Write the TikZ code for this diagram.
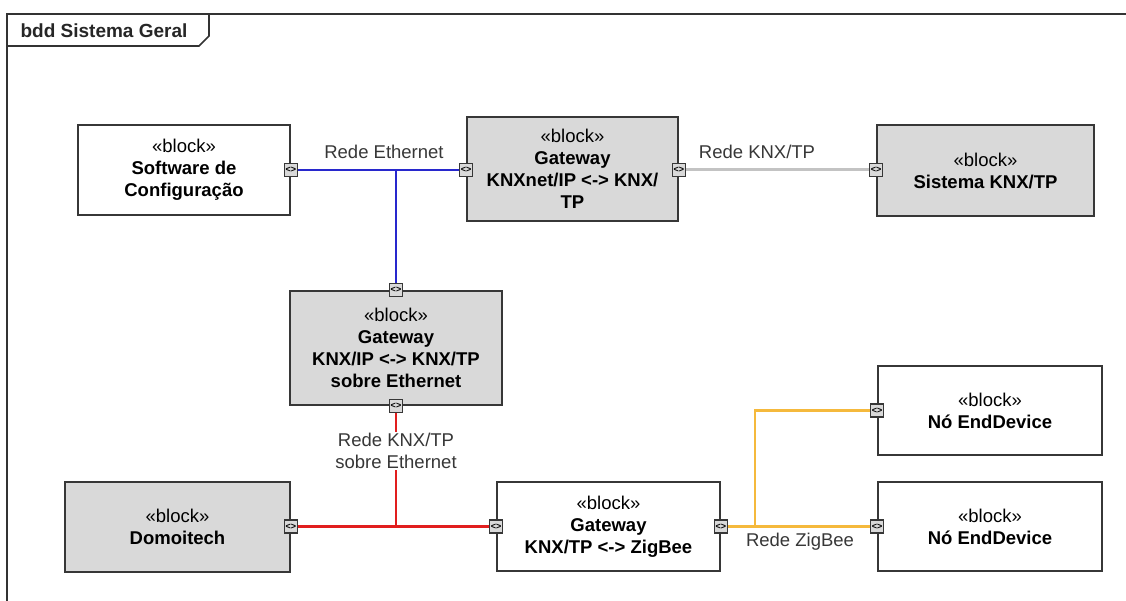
\documentclass[tikz,border=0pt]{standalone}
\usepackage{fontspec}
\setmainfont{Liberation Sans}
\usetikzlibrary{positioning}

\definecolor{ethblue}{RGB}{40,40,205}
\definecolor{knxgray}{RGB}{195,195,195}
\definecolor{knxred}{RGB}{225,30,30}
\definecolor{zigorange}{RGB}{245,185,60}
\definecolor{blockgray}{RGB}{217,217,217}
\definecolor{edgegray}{RGB}{55,55,55}

\begin{document}
\begin{tikzpicture}[x=1pt,y=-1pt,
  block/.style={draw=edgegray,line width=1.6pt,align=center,inner sep=0pt,
    font=\fontsize{18.5}{22}\selectfont,minimum height=90pt},
  port/.style={draw=edgegray,fill=blockgray,line width=1.1pt,rectangle,
    minimum size=13pt,inner sep=0pt,font=\fontsize{9}{9}\selectfont\bfseries},
  lbl/.style={align=center,text=edgegray,inner sep=0pt,
    font=\fontsize{18.5}{22}\selectfont},
  frame/.style={draw=black!80,line width=1.6pt},
  eth/.style={draw=ethblue,line width=2.8pt},
  knxtp/.style={draw=knxgray,line width=3pt},
  knxeth/.style={draw=knxred,line width=2.4pt},
  zig/.style={draw=zigorange,line width=2.4pt}]
\useasboundingbox (0,0) rectangle (1126,601);
% frame
\draw[frame] (7,601) -- (7,14) -- (1126,14);
\draw[frame] (7,46) -- (199,46) -- (209,36) -- (209,14);
\node[font=\fontsize{19}{22}\selectfont\bfseries,text=black!85] (title) at (104,31) {bdd Sistema Geral};
% blocks
\node[block,fill=white,minimum width=212pt] (sw) at (184,170) {«block»\\\textbf{Software de}\\\textbf{Configuração}};
\node[block,fill=blockgray,minimum width=211pt,minimum height=104pt] (gwip) at (572.5,169) {«block»\\\textbf{Gateway}\\\textbf{KNXnet/IP <-> KNX/}\\\textbf{TP}};
\node[block,fill=blockgray,minimum width=217pt,minimum height=91pt] (knx) at (985.5,170.5) {«block»\\\textbf{Sistema KNX/TP}};
\node[block,fill=blockgray,minimum width=212pt,minimum height=114pt] (gweth) at (396,348) {«block»\\\textbf{Gateway}\\\textbf{KNX/IP <-> KNX/TP}\\\textbf{sobre Ethernet}};
\node[block,fill=blockgray,minimum width=225pt] (dom) at (177.5,527) {«block»\\\textbf{Domoitech}};
\node[block,fill=white,minimum width=223pt,minimum height=89pt] (zb) at (608.5,526.5) {«block»\\\textbf{Gateway}\\\textbf{KNX/TP <-> ZigBee}};
\node[block,fill=white,minimum width=224pt,minimum height=89pt] (nd1) at (990,410.5) {«block»\\\textbf{Nó EndDevice}};
\node[block,fill=white,minimum width=224pt,minimum height=89pt] (nd2) at (990,526.5) {«block»\\\textbf{Nó EndDevice}};
% ports
\node[port] (swP) at (sw.east) {<>};
\node[port] (gwipL) at (gwip.west |- sw.east) {<>};
\node[port] (gwipR) at (gwip.east |- sw.east) {<>};
\node[port] (knxP) at (knx.west |- sw.east) {<>};
\node[port] (gwethT) at (gweth.north) {<>};
\node[port] (gwethB) at (gweth.south) {<>};
\node[port] (domP) at (dom.east |- zb.west) {<>};
\node[port] (zbL) at (zb.west) {<>};
\node[port] (zbR) at (zb.east) {<>};
\node[port] (nd1P) at (nd1.west) {<>};
\node[port] (nd2P) at (nd2.west) {<>};
% junctions
\coordinate (jEth) at (gwethT |- swP);
\coordinate (jKnx) at (gwethB |- domP);
\coordinate (jZb) at (755,526.5);
% connectors
\draw[eth] (swP) -- (gwipL);
\draw[eth] (jEth) -- (gwethT);
\draw[knxtp] (gwipR) -- (knxP);
\draw[knxeth] (gwethB) -- (jKnx);
\draw[knxeth] (domP) -- (zbL);
\draw[zig] (zbR) -- (nd2P);
\draw[zig] (jZb) |- (nd1P);
% labels
\node[lbl] (lEth) at (384,152) {Rede Ethernet};
\node[lbl] (lKnx) at (757,152) {Rede KNX/TP};
\node[lbl,fill=white,inner sep=1pt] (lKnxEth) at (396,451) {Rede KNX/TP\\sobre Ethernet};
\node[lbl] (lZb) at (800,542) {Rede ZigBee};
\end{tikzpicture}
\end{document}
